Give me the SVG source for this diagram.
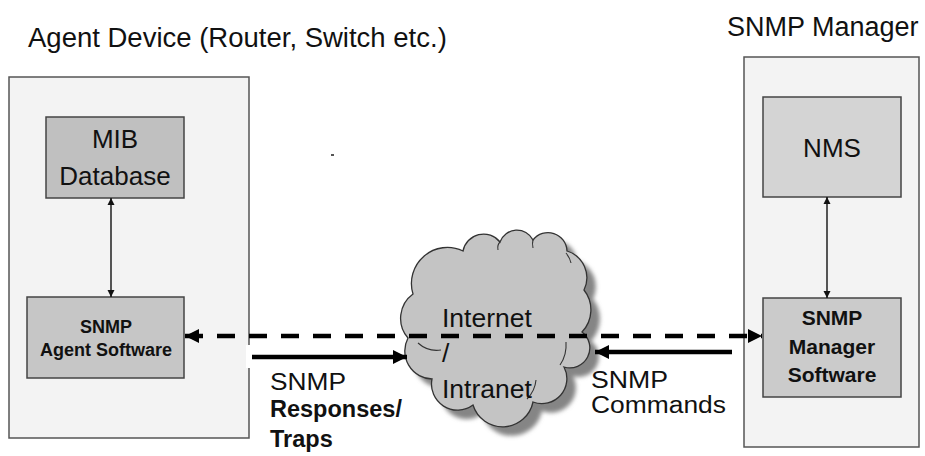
<svg xmlns="http://www.w3.org/2000/svg" width="925" height="456" viewBox="0 0 925 456">
  <style>
    .t { font-family: "Liberation Sans", Arial, sans-serif; fill: #111; }
    .b { font-weight: bold; }
    .outer { fill: #f3f3f3; stroke: #555; stroke-width: 1.5; }
    .inner { stroke: #444; stroke-width: 1.5; }
    .thin { stroke: #111; stroke-width: 1.4; fill: none; }
    .thick { stroke: #000; stroke-width: 4.5; fill: none; }
    .dash { stroke: #000; stroke-width: 4.5; fill: none; stroke-dasharray: 18 14; }
    .cloud { fill: #c4c4c4; stroke: #333; stroke-width: 1.3; }
    .cloudline { fill: none; stroke: #333; stroke-width: 1.1; }
  </style>
  <defs>
    <marker id="ah" viewBox="0 0 10 10" refX="10" refY="5" markerWidth="7" markerHeight="8" markerUnits="userSpaceOnUse" orient="auto-start-reverse">
      <path d="M0 0 L10 5 L0 10 Z" fill="#111"/>
    </marker>
    <marker id="big" viewBox="0 0 10 10" refX="10" refY="5" markerWidth="14" markerHeight="14" markerUnits="userSpaceOnUse" orient="auto-start-reverse">
      <path d="M0 0 L10 5 L0 10 Z" fill="#000"/>
    </marker>
    <filter id="blur" x="-10%" y="-10%" width="120%" height="120%">
      <feGaussianBlur stdDeviation="2"/>
    </filter>
    <path id="cloudshape" d="M 413 294 A 36 36 0 0 1 463 251 A 21 21 0 0 1 500 242 A 18 18 0 0 1 533 240 A 19 19 0 0 1 567 251 A 28 28 0 0 1 584 290 A 32 32 0 0 1 582 332 A 20 20 0 0 1 564 367 A 25 25 0 0 1 533 402 A 31 31 0 0 1 473 405 A 26 26 0 0 1 432 379 A 28 28 0 0 1 408 338 A 30 30 0 0 1 413 294 Z"/>
  </defs>

  <rect width="925" height="456" fill="#ffffff"/>
  <rect x="331" y="154" width="3" height="2" fill="#555"/>

  <g id="agent-device">
    <rect class="outer" x="9" y="77" width="240" height="361"/>
    <text class="t" x="28" y="47" font-size="27.5">Agent Device (Router, Switch etc.)</text>
    <rect x="246" y="345" width="7" height="23" fill="#ffffff"/>
  </g>

  <g id="mib-database">
    <rect class="inner" x="46" y="117" width="138" height="81" fill="#c0c0c0"/>
    <text class="t" x="115" y="148" font-size="26" text-anchor="middle">MIB</text>
    <text class="t" x="115" y="185" font-size="26" text-anchor="middle">Database</text>
  </g>

  <g id="agent-software">
    <rect class="inner" x="27" y="297" width="157" height="81" fill="#c6c6c6"/>
    <text class="t b" x="106" y="333" font-size="18" text-anchor="middle">SNMP</text>
    <text class="t b" x="106" y="356" font-size="18" text-anchor="middle">Agent Software</text>
  </g>

  <g id="snmp-manager">
    <rect class="outer" x="744" y="57" width="175" height="390"/>
    <text class="t" x="727" y="36" font-size="27">SNMP Manager</text>
  </g>

  <g id="nms">
    <rect class="inner" x="763" y="97" width="138" height="100" fill="#d4d4d4"/>
    <text class="t" x="832" y="157" font-size="26" text-anchor="middle">NMS</text>
  </g>

  <g id="manager-software">
    <rect class="inner" x="763" y="298" width="138" height="99" fill="#cbcbcb"/>
    <text class="t b" x="832" y="325" font-size="21" text-anchor="middle">SNMP</text>
    <text class="t b" x="832" y="354" font-size="21" text-anchor="middle">Manager</text>
    <text class="t b" x="832" y="382" font-size="21" text-anchor="middle">Software</text>
  </g>

  <g id="cloud">
    <use href="#cloudshape" transform="translate(9,9)" fill="#858585" filter="url(#blur)"/>
    <use href="#cloudshape" class="cloud"/>
    <path class="cloudline" d="M 418 343 Q 428 352 441 350"/>
    <path class="cloudline" d="M 527 399 Q 535 391 536 380"/>
    <path class="cloudline" d="M 560 365 Q 567 355 566 342"/>
    <path class="cloudline" d="M 498 250 Q 497 245 500 242"/>
    <path class="cloudline" d="M 533 248 Q 532 243 533 240"/>
    <path class="cloudline" d="M 566 253 Q 570 258 571 263"/>
    <text class="t" x="442" y="327" font-size="26.5">Internet</text>
    <text class="t" x="442" y="362" font-size="26.5">/</text>
    <text class="t" x="442" y="398" font-size="26.5">Intranet</text>
  </g>

  <g id="connectors">
    <line class="thin" x1="111" y1="198" x2="111" y2="297" marker-start="url(#ah)" marker-end="url(#ah)"/>
    <line class="thin" x1="827" y1="197" x2="827" y2="298" marker-start="url(#ah)" marker-end="url(#ah)"/>
    <line class="dash" x1="185" y1="336" x2="762" y2="336" marker-start="url(#big)" marker-end="url(#big)"/>
    <line class="thick" x1="252" y1="357" x2="407" y2="357" marker-end="url(#big)"/>
    <line class="thick" x1="732" y1="352" x2="595" y2="352" marker-end="url(#big)"/>
  </g>

  <g id="labels">
    <text class="t" x="270" y="390" font-size="23" textLength="76" lengthAdjust="spacingAndGlyphs">SNMP</text>
    <text class="t b" x="270" y="417" font-size="23.5">Responses/</text>
    <text class="t b" x="270" y="447" font-size="23.5">Traps</text>
    <text class="t" x="591" y="388" font-size="23" textLength="77" lengthAdjust="spacingAndGlyphs">SNMP</text>
    <text class="t" x="591" y="413" font-size="23" textLength="135" lengthAdjust="spacingAndGlyphs">Commands</text>
  </g>
</svg>
